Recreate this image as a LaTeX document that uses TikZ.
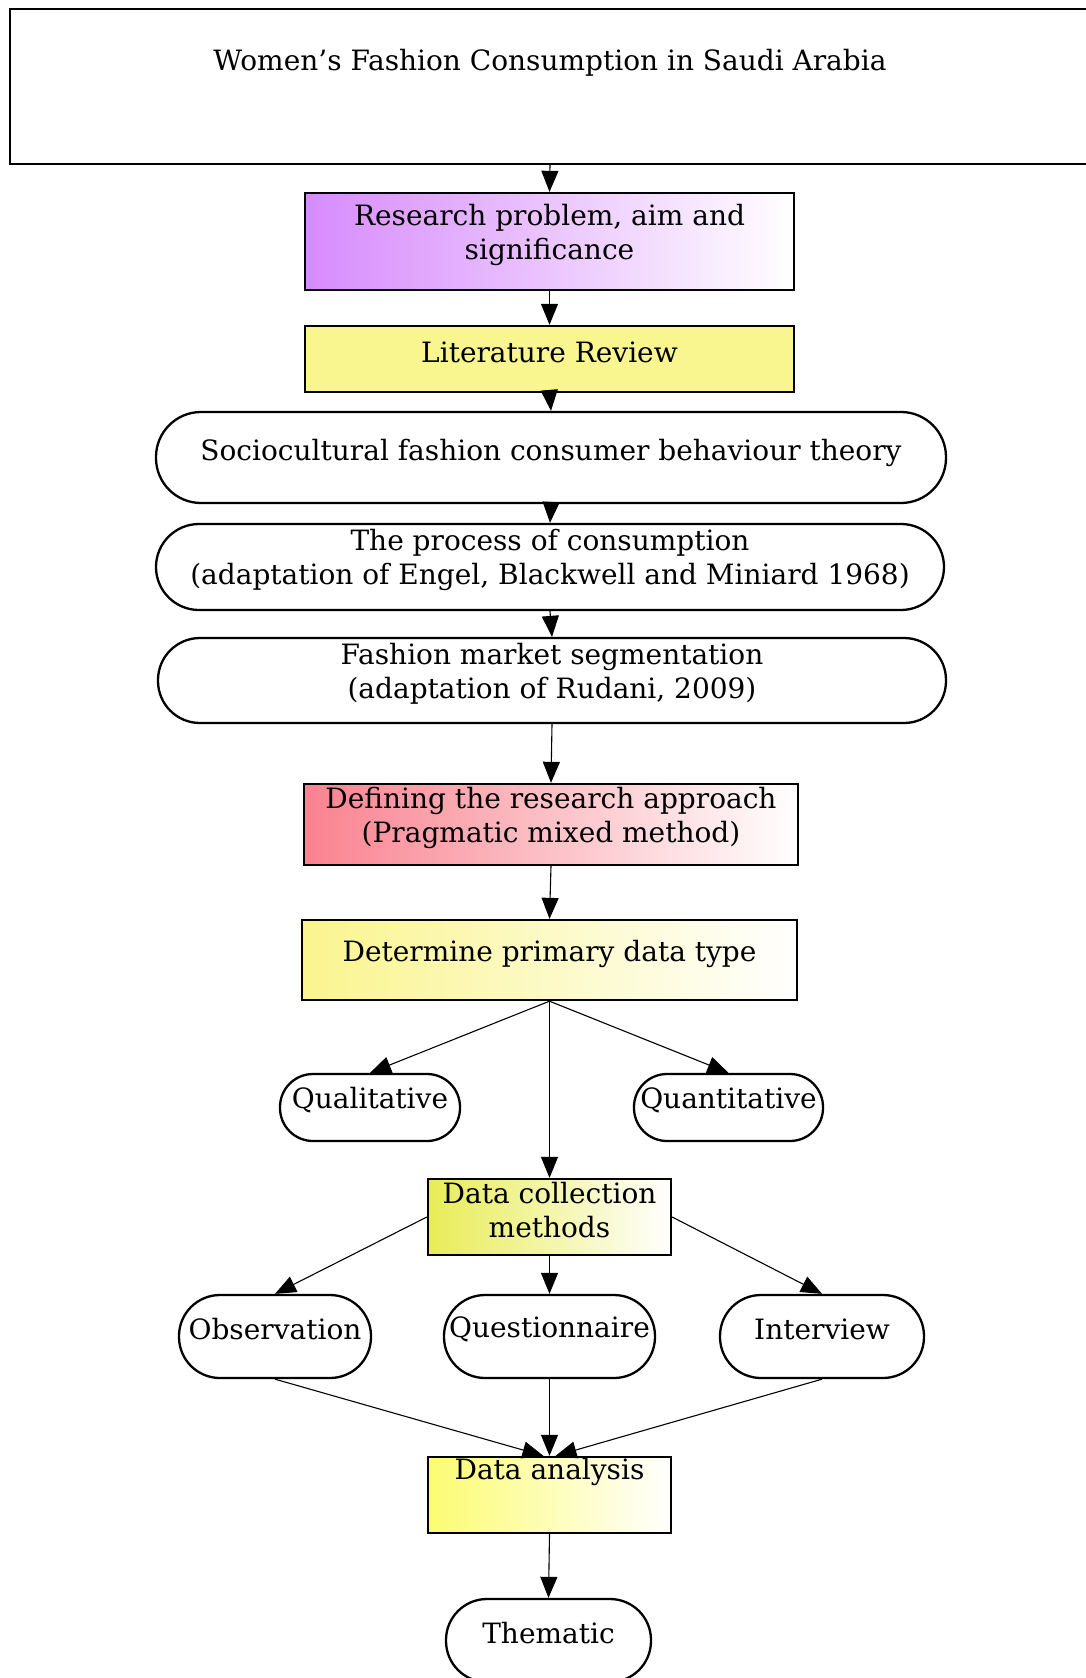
\documentclass[tikz,border=0pt]{standalone}
\usepackage{fontspec}
\setmainfont{DejaVu Serif}
\usetikzlibrary{arrows.meta}
\newcommand\chartfont{\fontsize{28}{34}\selectfont}
\definecolor{purp}{HTML}{D78BFD}
\definecolor{rose}{HTML}{F9828F}
\definecolor{lity}{HTML}{F9F68F}
\definecolor{dety}{HTML}{FAF58E}
\definecolor{coly}{HTML}{E8EC56}
\definecolor{anay}{HTML}{FCFC72}
\tikzset{
  frame/.style={draw=black, line width=2.3pt, inner sep=0pt, rectangle},
  pill/.style={frame, rounded corners=#1},
  txt/.style={font=\chartfont, align=center, inner sep=0pt, yshift=7pt},
  conn/.style={line width=1.1pt, -{Triangle[length=21pt,width=17pt]}},
}
\begin{document}
\begin{tikzpicture}[x=1pt,y=-1pt]
\useasboundingbox (0,0) rectangle (1086,1678);

% title frame
\node[frame, minimum width=1080pt, minimum height=155pt,
  label={[txt,yshift=17pt]center:Women’s Fashion Consumption in Saudi Arabia}] (title) at (550,86.5) {};

% main column
\node[frame, left color=purp, right color=white, minimum width=489pt, minimum height=97pt,
  label={[txt]center:Research problem, aim and\\significance}] (research) at (549.5,241.5) {};
\node[frame, fill=lity, minimum width=489pt, minimum height=66pt,
  label={[txt]center:Literature Review}] (lit) at (549.5,359) {};
\node[pill=45pt, minimum width=790pt, minimum height=91pt,
  label={[txt,yshift=-2pt]center:Sociocultural fashion consumer behaviour theory}] (socio) at (551,457.5) {};
\node[pill=43pt, minimum width=788pt, minimum height=86pt,
  label={[txt]center:The process of consumption\\(adaptation of Engel, Blackwell and Miniard 1968)}] (process) at (550,567) {};
\node[pill=42pt, minimum width=788pt, minimum height=85pt,
  label={[txt]center:Fashion market segmentation\\(adaptation of Rudani, 2009)}] (segment) at (552,680.5) {};
\node[frame, left color=rose, right color=white, minimum width=494pt, minimum height=81pt,
  label={[txt]center:Defining the research approach\\(Pragmatic mixed method)}] (approach) at (551,824.5) {};
\node[frame, left color=dety, right color=white, minimum width=495pt, minimum height=80pt,
  label={[txt,yshift=-1pt]center:Determine primary data type}] (datatype) at (549.5,960) {};

% data types
\node[pill=33pt, minimum width=180pt, minimum height=67pt,
  label={[txt]center:Qualitative}] (qual) at (370,1107.5) {};
\node[pill=33pt, minimum width=189pt, minimum height=67pt,
  label={[txt]center:Quantitative}] (quant) at (728.5,1107.5) {};

% collection
\node[frame, left color=coly, right color=white, minimum width=243pt, minimum height=76pt,
  label={[txt]center:Data collection\\methods}] (collect) at (549.5,1217) {};
\node[pill=41pt, minimum width=192pt, minimum height=83pt,
  label={[txt]center:Observation}] (obs) at (275,1336.5) {};
\node[pill=41pt, minimum width=211pt, minimum height=83pt,
  label={[txt]center:Questionnaire}] (quest) at (549.5,1336.5) {};
\node[pill=41pt, minimum width=204pt, minimum height=83pt,
  label={[txt]center:Interview}] (inter) at (822,1336.5) {};

% analysis
\node[frame, left color=anay, right color=white, minimum width=243pt, minimum height=76pt,
  label={[txt,yshift=16pt]center:Data analysis}] (analysis) at (549.5,1495) {};
\node[pill=41pt, minimum width=205pt, minimum height=83pt,
  label={[txt]center:Thematic}] (thematic) at (548.5,1640.5) {};

% connectors
\draw[conn] (title.south) -- (research.north);
\draw[conn] (research.south) -- (lit.north);
\draw[conn] (lit.south) -- (socio.north);
\draw[conn] (socio.south) -- (process.north);
\draw[conn] (process.south) -- (segment.north);
\draw[conn] (segment.south) -- (approach.north);
\draw[conn] (approach.south) -- (datatype.north);
\draw[conn] (datatype.south) -- (qual.north);
\draw[conn] (datatype.south) -- (quant.north);
\draw[conn] (datatype.south) -- (collect.north);
\draw[conn] (collect.west) -- (obs.north);
\draw[conn] (collect.south) -- (quest.north);
\draw[conn] (collect.east) -- (inter.north);
\draw[conn] (obs.south) -- ([xshift=-6pt]analysis.north);
\draw[conn] (quest.south) -- (analysis.north);
\draw[conn] (inter.south) -- ([xshift=6pt]analysis.north);
\draw[conn] (analysis.south) -- (thematic.north);
\end{tikzpicture}
\end{document}
